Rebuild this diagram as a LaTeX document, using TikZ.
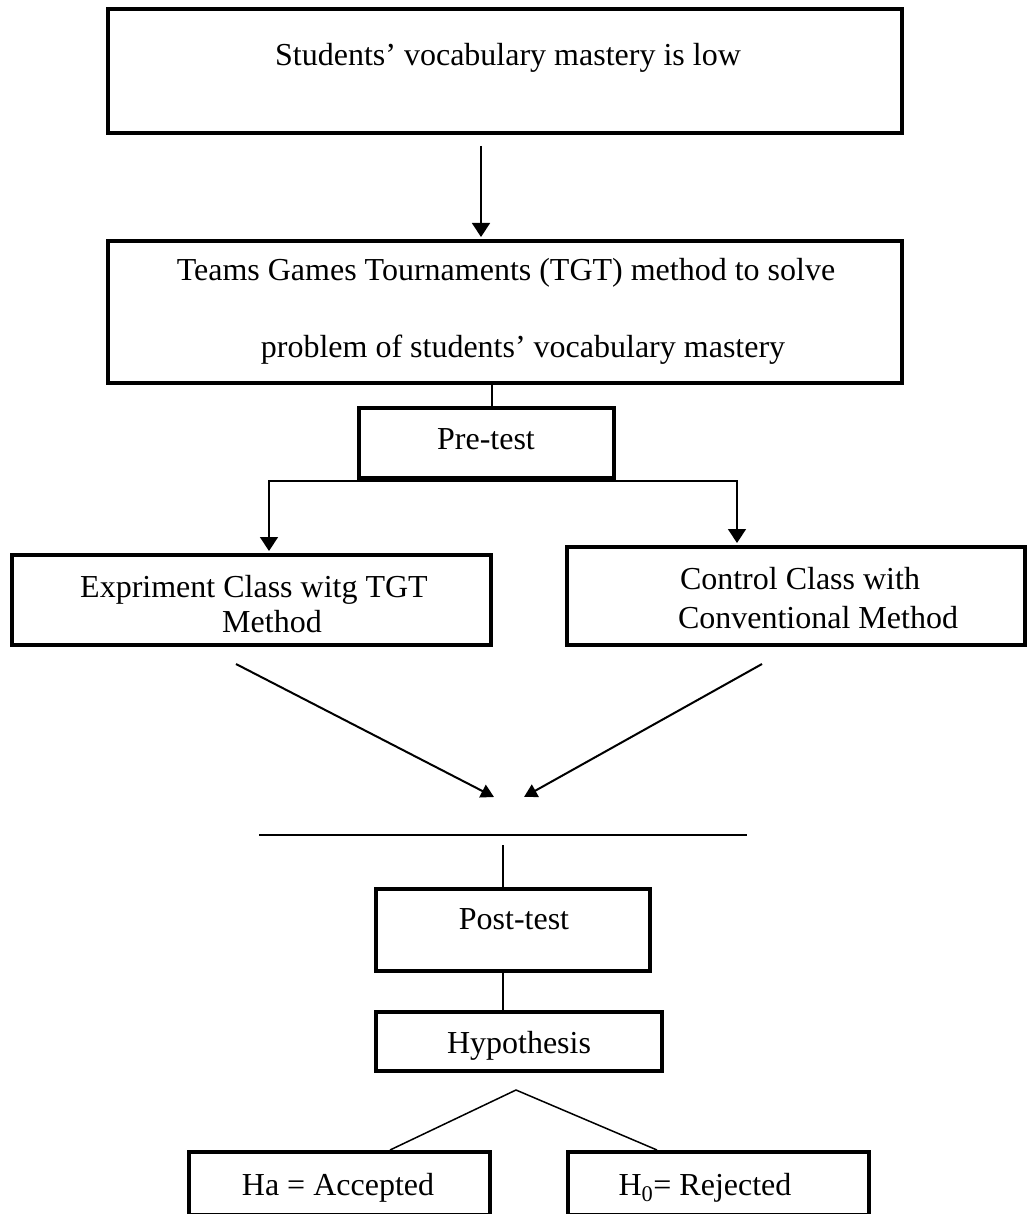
\documentclass[tikz,border=0pt]{standalone}
\usepackage{fontspec}
\setmainfont{Liberation Serif}
\usetikzlibrary{arrows.meta}
\begin{document}
\begin{tikzpicture}[x=1pt,y=-1pt,
  box/.style={draw, line width=4pt, inner sep=0pt},
  lbl/.style={font=\fontsize{32}{38}\selectfont, anchor=base, inner sep=0pt},
  conn/.style={line width=1.5pt},
  arr/.style={conn, -{Triangle[width=18pt,length=14pt]}},
  darr/.style={line width=2pt, -{Triangle[width=14pt,length=13pt]}}]
\useasboundingbox (0,0) rectangle (1029,1214);
% boxes
\node[box, minimum width=794pt, minimum height=124pt] (b1) at (505,71) {};
\node[box, minimum width=794pt, minimum height=142pt] (b2) at (505,312) {};
\node[box, minimum width=255pt, minimum height=70pt] (pre) at (486.5,443) {};
\node[box, minimum width=479pt, minimum height=90pt] (lb) at (251.5,600) {};
\node[box, minimum width=458pt, minimum height=98pt] (rb) at (796,596) {};
\node[box, minimum width=274pt, minimum height=82pt] (po) at (513,930) {};
\node[box, minimum width=286pt, minimum height=59pt] (hy) at (519,1041.5) {};
\node[box, minimum width=301pt, minimum height=63pt] (ha) at (339.5,1183.5) {};
\node[box, minimum width=301pt, minimum height=63pt] (h0) at (718.5,1183.5) {};
% texts
\node[lbl] (t1) at (508,66) {Students’ vocabulary mastery is low};
\node[lbl] (t2a) at (506,281) {Teams Games Tournaments (TGT) method to solve};
\node[lbl] (t2b) at (523,357) {problem of students’ vocabulary mastery};
\node[lbl] (t3) at (486,449) {Pre-test};
\node[lbl] (t4a) at (254,597) {Expriment Class witg TGT};
\node[lbl] (t4b) at (272,632) {Method};
\node[lbl] (t5a) at (800,589) {Control Class with};
\node[lbl] (t5b) at (818,628) {Conventional Method};
\node[lbl] (t6) at (514,929) {Post-test};
\node[lbl] (t7) at (519,1053) {Hypothesis};
\node[lbl] (t8) at (338,1195) {Ha = Accepted};
\node[lbl] (t9) at (705,1195) {H\textsubscript{0}= Rejected};
% connectors
\draw[arr] ([xshift=-24pt,yshift=-11pt]b1.south) -- ([xshift=-24pt,yshift=2pt]b2.north);
\draw[conn] ([xshift=5.5pt]pre.north) -- ([xshift=5.5pt]pre.north |- b2.south);
\coordinate (bj) at (486.5,481);
\draw[arr] (bj) -| ([xshift=17.5pt,yshift=2pt]lb.north);
\draw[arr] (bj) -| ([xshift=-59pt,yshift=2pt]rb.north);
\coordinate (m1) at (494,797);
\coordinate (m2) at (524,797);
\draw[darr] ([shift={(-15.5,17)}]lb.south) -- (m1);
\draw[darr] ([shift={(-34,17)}]rb.south) -- (m2);
\coordinate (h1) at (259,835);
\coordinate (h2) at (747,835);
\draw[line width=2pt] (h1) -- (h2);
\draw[conn] ([xshift=-10pt]po.north) -- ++(0,-42);
\draw[conn] ([xshift=-10pt]po.south) -- ([xshift=-10pt]po.south |- hy.north);
\coordinate (pk) at (516,1090);
\draw[conn] ([xshift=50.5pt]ha.north) -- (pk) -- ([xshift=-61.5pt]h0.north);
\end{tikzpicture}
\end{document}
